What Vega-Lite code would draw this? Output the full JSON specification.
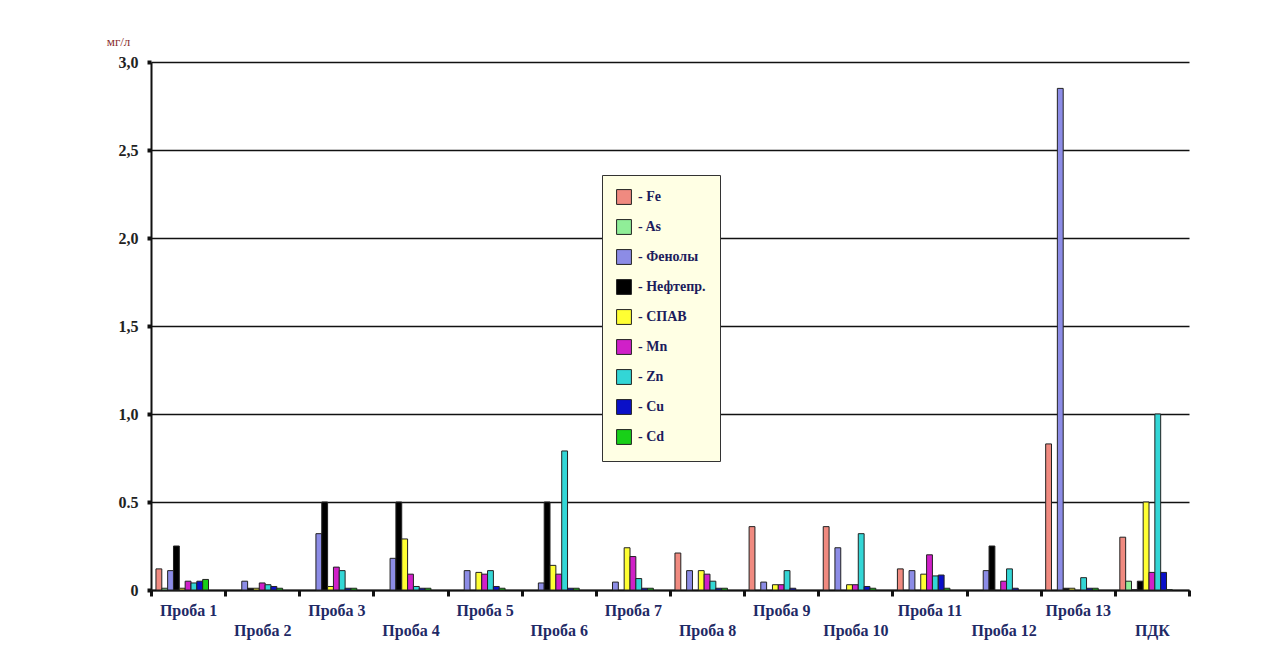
{
  "$schema": "https://vega.github.io/schema/vega-lite/v6.json",
  "autosize": "none",
  "width": 1038,
  "height": 528,
  "padding": {"left": 151, "top": 62, "right": 75, "bottom": 76},
  "background": "white",
  "config": {"view": {"stroke": null}, "font": "Liberation Serif"},
  "data": {"values": [
    {"sample": "Проба 1", "element": "Fe", "value": 0.12},
    {"sample": "Проба 1", "element": "As", "value": 0.01},
    {"sample": "Проба 1", "element": "Фенолы", "value": 0.11},
    {"sample": "Проба 1", "element": "Нефтепр.", "value": 0.25},
    {"sample": "Проба 1", "element": "СПАВ", "value": 0.01},
    {"sample": "Проба 1", "element": "Mn", "value": 0.05},
    {"sample": "Проба 1", "element": "Zn", "value": 0.04},
    {"sample": "Проба 1", "element": "Cu", "value": 0.05},
    {"sample": "Проба 1", "element": "Cd", "value": 0.06},
    {"sample": "Проба 2", "element": "Фенолы", "value": 0.05},
    {"sample": "Проба 2", "element": "Нефтепр.", "value": 0.01},
    {"sample": "Проба 2", "element": "СПАВ", "value": 0.01},
    {"sample": "Проба 2", "element": "Mn", "value": 0.04},
    {"sample": "Проба 2", "element": "Zn", "value": 0.03},
    {"sample": "Проба 2", "element": "Cu", "value": 0.02},
    {"sample": "Проба 2", "element": "Cd", "value": 0.01},
    {"sample": "Проба 3", "element": "Фенолы", "value": 0.32},
    {"sample": "Проба 3", "element": "Нефтепр.", "value": 0.5},
    {"sample": "Проба 3", "element": "СПАВ", "value": 0.02},
    {"sample": "Проба 3", "element": "Mn", "value": 0.13},
    {"sample": "Проба 3", "element": "Zn", "value": 0.11},
    {"sample": "Проба 3", "element": "Cu", "value": 0.01},
    {"sample": "Проба 3", "element": "Cd", "value": 0.01},
    {"sample": "Проба 4", "element": "Фенолы", "value": 0.18},
    {"sample": "Проба 4", "element": "Нефтепр.", "value": 0.5},
    {"sample": "Проба 4", "element": "СПАВ", "value": 0.29},
    {"sample": "Проба 4", "element": "Mn", "value": 0.09},
    {"sample": "Проба 4", "element": "Zn", "value": 0.02},
    {"sample": "Проба 4", "element": "Cu", "value": 0.01},
    {"sample": "Проба 4", "element": "Cd", "value": 0.01},
    {"sample": "Проба 5", "element": "Фенолы", "value": 0.11},
    {"sample": "Проба 5", "element": "СПАВ", "value": 0.1},
    {"sample": "Проба 5", "element": "Mn", "value": 0.09},
    {"sample": "Проба 5", "element": "Zn", "value": 0.11},
    {"sample": "Проба 5", "element": "Cu", "value": 0.02},
    {"sample": "Проба 5", "element": "Cd", "value": 0.01},
    {"sample": "Проба 6", "element": "Фенолы", "value": 0.04},
    {"sample": "Проба 6", "element": "Нефтепр.", "value": 0.5},
    {"sample": "Проба 6", "element": "СПАВ", "value": 0.14},
    {"sample": "Проба 6", "element": "Mn", "value": 0.09},
    {"sample": "Проба 6", "element": "Zn", "value": 0.79},
    {"sample": "Проба 6", "element": "Cu", "value": 0.01},
    {"sample": "Проба 6", "element": "Cd", "value": 0.01},
    {"sample": "Проба 7", "element": "Фенолы", "value": 0.045},
    {"sample": "Проба 7", "element": "СПАВ", "value": 0.24},
    {"sample": "Проба 7", "element": "Mn", "value": 0.19},
    {"sample": "Проба 7", "element": "Zn", "value": 0.065},
    {"sample": "Проба 7", "element": "Cu", "value": 0.01},
    {"sample": "Проба 7", "element": "Cd", "value": 0.01},
    {"sample": "Проба 8", "element": "Fe", "value": 0.21},
    {"sample": "Проба 8", "element": "Фенолы", "value": 0.11},
    {"sample": "Проба 8", "element": "СПАВ", "value": 0.11},
    {"sample": "Проба 8", "element": "Mn", "value": 0.09},
    {"sample": "Проба 8", "element": "Zn", "value": 0.05},
    {"sample": "Проба 8", "element": "Cu", "value": 0.01},
    {"sample": "Проба 8", "element": "Cd", "value": 0.01},
    {"sample": "Проба 9", "element": "Fe", "value": 0.36},
    {"sample": "Проба 9", "element": "Фенолы", "value": 0.045},
    {"sample": "Проба 9", "element": "СПАВ", "value": 0.03},
    {"sample": "Проба 9", "element": "Mn", "value": 0.03},
    {"sample": "Проба 9", "element": "Zn", "value": 0.11},
    {"sample": "Проба 9", "element": "Cu", "value": 0.01},
    {"sample": "Проба 10", "element": "Fe", "value": 0.36},
    {"sample": "Проба 10", "element": "Фенолы", "value": 0.24},
    {"sample": "Проба 10", "element": "СПАВ", "value": 0.03},
    {"sample": "Проба 10", "element": "Mn", "value": 0.03},
    {"sample": "Проба 10", "element": "Zn", "value": 0.32},
    {"sample": "Проба 10", "element": "Cu", "value": 0.02},
    {"sample": "Проба 10", "element": "Cd", "value": 0.01},
    {"sample": "Проба 11", "element": "Fe", "value": 0.12},
    {"sample": "Проба 11", "element": "Фенолы", "value": 0.11},
    {"sample": "Проба 11", "element": "СПАВ", "value": 0.09},
    {"sample": "Проба 11", "element": "Mn", "value": 0.2},
    {"sample": "Проба 11", "element": "Zn", "value": 0.08},
    {"sample": "Проба 11", "element": "Cu", "value": 0.085},
    {"sample": "Проба 11", "element": "Cd", "value": 0.01},
    {"sample": "Проба 12", "element": "Фенолы", "value": 0.11},
    {"sample": "Проба 12", "element": "Нефтепр.", "value": 0.25},
    {"sample": "Проба 12", "element": "Mn", "value": 0.05},
    {"sample": "Проба 12", "element": "Zn", "value": 0.12},
    {"sample": "Проба 12", "element": "Cu", "value": 0.01},
    {"sample": "Проба 13", "element": "Fe", "value": 0.83},
    {"sample": "Проба 13", "element": "Фенолы", "value": 2.85},
    {"sample": "Проба 13", "element": "Нефтепр.", "value": 0.01},
    {"sample": "Проба 13", "element": "СПАВ", "value": 0.01},
    {"sample": "Проба 13", "element": "Zn", "value": 0.07},
    {"sample": "Проба 13", "element": "Cu", "value": 0.01},
    {"sample": "Проба 13", "element": "Cd", "value": 0.01},
    {"sample": "ПДК", "element": "Fe", "value": 0.3},
    {"sample": "ПДК", "element": "As", "value": 0.05},
    {"sample": "ПДК", "element": "Фенолы", "value": 0.001},
    {"sample": "ПДК", "element": "Нефтепр.", "value": 0.05},
    {"sample": "ПДК", "element": "СПАВ", "value": 0.5},
    {"sample": "ПДК", "element": "Mn", "value": 0.1},
    {"sample": "ПДК", "element": "Zn", "value": 1.0},
    {"sample": "ПДК", "element": "Cu", "value": 0.1},
    {"sample": "ПДК", "element": "Cd", "value": 0.001}
  ]},
  "mark": {"type": "bar", "stroke": "#222222", "strokeWidth": 1},
  "encoding": {
    "x": {
      "field": "sample",
      "type": "nominal",
      "sort": ["Проба 1", "Проба 2", "Проба 3", "Проба 4", "Проба 5", "Проба 6", "Проба 7", "Проба 8", "Проба 9", "Проба 10", "Проба 11", "Проба 12", "Проба 13", "ПДК"],
      "scale": {"paddingInner": 0, "paddingOuter": 0},
      "axis": {
        "title": null,
        "labelAngle": 0,
        "tickBand": "extent",
        "domainColor": "#111111",
        "domainWidth": 2,
        "tickColor": "#111111",
        "tickWidth": 3,
        "tickSize": 6,
        "labelFont": "Liberation Serif",
        "labelFontWeight": "bold",
        "labelFontSize": 16,
        "labelColor": "#1F2A66",
        "labelBaseline": "top",
        "labelPadding": {"condition": {"test": "indexof(['Проба 2','Проба 4','Проба 6','Проба 8','Проба 10','Проба 12','ПДК'], datum.value) >= 0", "value": 26}, "value": 6}
      }
    },
    "xOffset": {
      "field": "element",
      "type": "nominal",
      "scale": {"domain": ["Fe", "As", "Фенолы", "Нефтепр.", "СПАВ", "Mn", "Zn", "Cu", "Cd", " ", "  "], "paddingInner": 0, "paddingOuter": 0.85}
    },
    "y": {
      "field": "value",
      "type": "quantitative",
      "scale": {"domain": [0, 3], "nice": false},
      "axis": {
        "title": "мг/л",
        "titleAngle": 0,
        "titleX": -33,
        "titleY": -21,
        "titleAlign": "center",
        "titleBaseline": "middle",
        "titleFont": "Liberation Serif",
        "titleFontSize": 13,
        "titleFontWeight": "normal",
        "titleColor": "#8B3030",
        "values": [0, 0.5, 1, 1.5, 2, 2.5, 3],
        "labelExpr": "datum.value == 0 ? '0' : (datum.value == 0.5 ? '0.5' : replace(format(datum.value, '.1f'), '.', ','))",
        "labelFont": "Liberation Serif",
        "labelFontWeight": "bold",
        "labelFontSize": 16,
        "labelColor": "#222222",
        "labelPadding": 9,
        "grid": true,
        "gridColor": "#111111",
        "gridWidth": 1.5,
        "domainColor": "#111111",
        "domainWidth": 2,
        "tickColor": "#111111",
        "tickWidth": 4,
        "tickSize": 4
      }
    },
    "color": {
      "field": "element",
      "type": "nominal",
      "scale": {
        "domain": ["Fe", "As", "Фенолы", "Нефтепр.", "СПАВ", "Mn", "Zn", "Cu", "Cd"],
        "range": ["#F08A80", "#90EE98", "#8C8CE6", "#000000", "#FFFF33", "#D020C8", "#33D6D6", "#0A10C8", "#18D018"]
      },
      "legend": {
        "orient": "none",
        "legendX": 451,
        "legendY": 113,
        "title": null,
        "fillColor": "#FFFFE4",
        "strokeColor": "#333333",
        "padding": 14,
        "symbolType": "square",
        "symbolSize": 220,
        "symbolStrokeColor": "#222222",
        "symbolStrokeWidth": 1,
        "symbolOpacity": 1,
        "rowPadding": 10,
        "labelOffset": 6,
        "labelExpr": "'- ' + datum.label + '\u2003\u2003'",
        "labelFont": "Liberation Serif",
        "labelFontWeight": "bold",
        "labelFontSize": 14,
        "labelColor": "#1C1C5C"
      }
    }
  }
}
